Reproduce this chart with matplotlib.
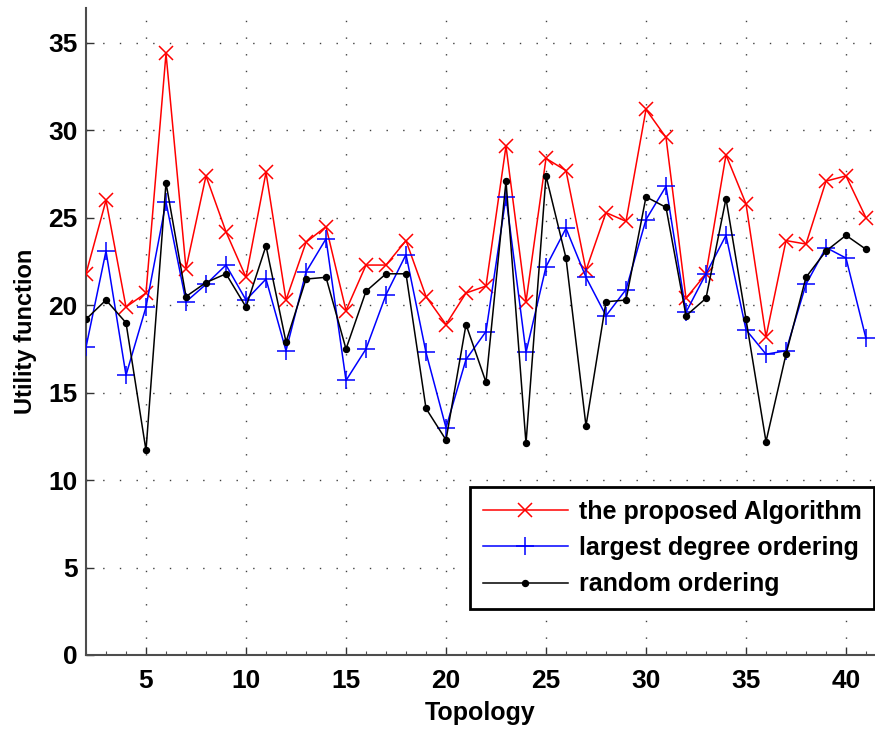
import numpy as np
import matplotlib
matplotlib.use("Agg")
import matplotlib.pyplot as plt

topology = list(range(2, 42))

proposed = [21.8, 26.0, 19.9, 20.7, 34.4, 22.1, 27.4, 24.2, 21.6, 27.6,
            20.3, 23.6, 24.5, 19.7, 22.3, 22.3, 23.7, 20.5, 18.9, 20.7,
            21.1, 29.1, 20.2, 28.4, 27.7, 22.0, 25.3, 24.8, 31.2, 29.6,
            20.4, 21.8, 28.6, 25.8, 18.2, 23.7, 23.5, 27.1, 27.4, 25.0]

largest_degree = [17.6, 23.1, 16.0, 19.9, 25.9, 20.2, 21.2, 22.3, 20.3, 21.5,
                  17.4, 21.9, 23.8, 15.7, 17.5, 20.6, 22.9, 17.3, 13.0, 16.9,
                  18.5, 26.2, 17.3, 22.2, 24.4, 21.6, 19.4, 20.9, 24.9, 26.8,
                  19.6, 21.8, 24.0, 18.6, 17.2, 17.4, 21.2, 23.3, 22.7, 18.1]

random_order = [19.2, 20.3, 19.0, 11.7, 27.0, 20.5, 21.3, 21.8, 19.9, 23.4,
                17.9, 21.5, 21.6, 17.5, 20.8, 21.8, 21.8, 14.1, 12.3, 18.9,
                15.6, 27.1, 12.1, 27.4, 22.7, 13.1, 20.2, 20.3, 26.2, 25.6,
                19.4, 20.4, 26.1, 19.2, 12.2, 17.2, 21.6, 23.1, 24.0, 23.2]

labels = ["the proposed Algorithm", "largest degree ordering", "random ordering"]

plt.rcParams['font.family'] = ['Liberation Sans', 'DejaVu Sans']
plt.rcParams['font.weight'] = 'bold'

fig = plt.figure(figsize=(8.75, 7.29), dpi=100)
ax = fig.add_axes([86/875, 74/729, 789/875, 647/729])

ax.plot(topology, proposed, color='#ff0000', lw=1.1, marker='x', ms=9.5, mew=1.1,
        label=labels[0], zorder=3)
ax.plot(topology, largest_degree, color='#0000ff', lw=1.1, marker='+', ms=12.5, mew=1.1,
        label=labels[1], zorder=3)
ax.plot(topology, random_order, color='black', lw=1.1, marker='o', ms=4.3,
        label=labels[2], zorder=3)

ax.set_xlim(2, 41.45)
ax.set_ylim(0, 37)
ax.set_xticks([5, 10, 15, 20, 25, 30, 35, 40])
ax.set_xticks(range(2, 42), minor=True)
ax.set_yticks([0, 5, 10, 15, 20, 25, 30, 35])

ax.grid(True, which='major', color='0.25', linestyle=(0, (1, 11)), linewidth=1.0)
ax.tick_params(axis='both', which='major', direction='in', length=6, width=1,
               labelsize=19, color='0.2', pad=6)
ax.tick_params(axis='x', which='major', pad=10)
ax.tick_params(axis='x', which='minor', direction='in', length=3, width=0.8, color='0.3')
ax.tick_params(axis='y', which='minor', left=False)
for lbl in ax.get_xticklabels() + ax.get_yticklabels():
    lbl.set_fontweight('bold')

ax.spines['top'].set_visible(False)
ax.spines['right'].set_visible(False)
for s in ('left', 'bottom'):
    ax.spines[s].set_color('0.3')
    ax.spines[s].set_linewidth(1.5)

ax.set_xlabel('Topology', fontsize=18, fontweight='bold', labelpad=6)
ax.set_ylabel('Utility function', fontsize=17, fontweight='bold', labelpad=8)

leg = ax.legend(loc='lower right', bbox_to_anchor=(874/875, 1 - 609/729),
                bbox_transform=fig.transFigure, borderaxespad=0,
                fontsize=18, handlelength=3.4, handletextpad=0.45,
                labelspacing=0.5, borderpad=0.5, fancybox=False,
                framealpha=1, edgecolor='black')
leg.get_frame().set_linewidth(2)
for t in leg.get_texts():
    t.set_fontweight('bold')

fig.savefig('out.png', dpi=100)
